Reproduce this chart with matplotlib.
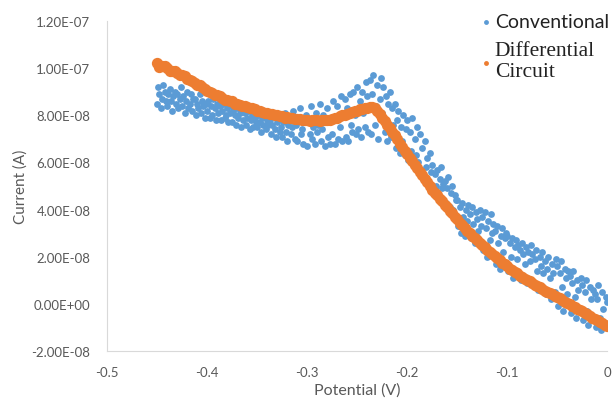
import numpy as np
import matplotlib
matplotlib.use("Agg")
import matplotlib.pyplot as plt
from matplotlib.lines import Line2D
from matplotlib.ticker import FuncFormatter, MultipleLocator

# potential sweeps (V)
conv_potential = np.round(np.arange(-0.45, 0.00001, 0.00125), 5)
diff_potential = np.round(np.arange(-0.45, 0.00001, 0.0025), 5)

# current readings, units of 1e-8 A
conv_current = [
    8.5, 9.2, 8.9, 8.3, 8.7, 9.3, 9.0, 8.6, 8.4, 8.9,
    9.1, 8.6, 8.2, 8.8, 9.0, 8.5, 8.9, 8.3, 8.7, 9.2,
    8.4, 8.8, 8.1, 8.6, 9.0, 8.3, 8.5, 8.9, 8.2, 8.7,
    8.7, 8.0, 8.5, 8.3, 8.9, 8.1, 8.6, 8.4, 7.9, 8.5,
    8.2, 8.6, 7.9, 8.4, 8.0, 8.7, 8.3, 7.8, 8.5, 8.1,
    8.4, 7.8, 8.2, 8.5, 7.9, 8.0, 8.3, 7.7, 8.1, 8.4,
    7.7, 8.2, 8.0, 7.6, 8.3, 7.9, 8.1, 7.5, 8.2, 7.8,
    8.1, 7.6, 7.9, 8.2, 7.4, 7.8, 8.0, 7.5, 7.9, 7.7,
    7.5, 8.0, 7.7, 7.3, 7.9, 7.6, 8.1, 7.4, 7.8, 7.6,
    7.8, 7.2, 7.6, 8.0, 7.4, 7.1, 7.7, 7.9, 7.3, 7.5,
    7.1, 7.7, 8.1, 7.3, 6.9, 7.6, 7.9, 7.2, 7.5, 8.2,
    7.0, 7.6, 6.9, 7.8, 8.3, 7.2, 7.4, 6.8, 7.7, 8.0,
    6.7, 7.9, 7.2, 8.4, 7.0, 7.5, 6.8, 8.1, 7.3, 7.6,
    8.5, 6.9, 7.4, 8.0, 6.7, 7.7, 8.3, 7.1, 6.8, 7.9,
    7.2, 8.6, 6.8, 7.8, 8.4, 7.0, 7.5, 8.8, 6.9, 8.1,
    8.7, 7.1, 8.3, 6.9, 8.9, 7.6, 7.3, 9.0, 8.0, 7.2,
    9.2, 7.4, 8.6, 7.1, 9.0, 8.1, 7.5, 9.4, 8.8, 7.3,
    9.5, 7.2, 8.9, 9.7, 7.6, 8.4, 9.3, 7.0, 8.7, 9.6,
    8.1, 9.2, 7.3, 8.8, 6.9, 8.5, 9.0, 7.1, 8.3, 7.6,
    8.5, 6.6, 7.8, 8.2, 6.4, 7.5, 6.9, 8.0, 6.3, 7.4,
    7.8, 6.1, 7.3, 6.5, 7.9, 5.9, 7.0, 6.3, 7.5, 6.0,
    7.2, 5.5, 6.6, 5.3, 6.9, 5.8, 6.2, 5.2, 6.4, 5.6,
    5.9, 4.8, 5.5, 5.0, 5.7, 4.6, 5.3, 5.8, 4.9, 5.1,
    5.2, 4.3, 4.9, 5.4, 4.1, 4.7, 5.0, 4.0, 4.6, 4.4,
    4.4, 3.3, 4.1, 3.0, 4.3, 3.7, 2.9, 4.0, 3.5, 4.2,
    3.8, 2.8, 4.1, 3.4, 2.6, 3.9, 3.6, 3.1, 4.0, 3.3,
    3.7, 2.3, 3.9, 3.2, 2.0, 3.5, 2.7, 3.8, 3.0, 3.4,
    3.1, 1.7, 3.3, 2.6, 1.5, 2.9, 3.2, 2.2, 2.8, 3.0,
    2.9, 1.4, 2.6, 2.0, 2.8, 1.1, 2.4, 2.7, 1.9, 2.5,
    2.3, 1.0, 2.6, 2.1, 1.7, 2.4, 0.9, 2.2, 1.8, 2.5,
    2.1, 0.8, 1.9, 2.3, 1.4, 0.6, 2.0, 1.6, 2.2, 1.3,
    1.8, 0.4, 1.5, 2.0, 1.1, 0.2, 1.7, 1.3, 0.5, 1.9,
    1.6, -0.1, 1.3, 1.8, 0.7, -0.3, 1.5, 1.1, 0.4, 1.4,
    1.2, -0.4, 0.9, 1.4, 0.3, -0.6, 1.0, 0.6, -0.2, 1.1,
    0.8, -0.7, 0.5, 1.0, -0.3, -0.9, 0.7, 0.2, -0.5, 0.6,
    0.4, -1.0, 0.2, 0.8, -0.6, -1.1, 0.5, -0.2, -0.8, 0.3,
    0.1,
]
diff_current = [
    10.2, 10.05, 10.1, 10.1, 10.0, 9.9, 9.9, 9.9, 9.8, 9.7,
    9.7, 9.65, 9.55, 9.5, 9.45, 9.35, 9.3, 9.3, 9.2, 9.1,
    9.05, 9.0, 8.95, 8.85, 8.85, 8.8, 8.75, 8.65, 8.65, 8.6,
    8.6, 8.5, 8.5, 8.45, 8.4, 8.4, 8.35, 8.3, 8.3, 8.25,
    8.2, 8.2, 8.15, 8.1, 8.1, 8.05, 8.05, 8.0, 8.0, 7.95,
    7.95, 7.9, 7.92, 7.9, 7.9, 7.85, 7.85, 7.85, 7.82, 7.8,
    7.8, 7.75, 7.78, 7.8, 7.78, 7.75, 7.78, 7.8, 7.8, 7.82,
    7.85, 7.9, 7.9, 7.95, 8.0, 8.0, 8.05, 8.1, 8.15, 8.2,
    8.2, 8.25, 8.25, 8.3, 8.3, 8.35, 8.35, 8.3, 8.2, 8.05,
    7.9, 7.75, 7.6, 7.45, 7.3, 7.15, 7.0, 6.8, 6.65, 6.5,
    6.35, 6.2, 6.05, 5.9, 5.75, 5.6, 5.45, 5.3, 5.15, 5.0,
    4.85, 4.7, 4.6, 4.45, 4.35, 4.2, 4.1, 3.95, 3.85, 3.7,
    3.6, 3.45, 3.35, 3.2, 3.1, 3.0, 2.9, 2.8, 2.7, 2.6,
    2.5, 2.4, 2.3, 2.2, 2.1, 2.05, 1.95, 1.85, 1.75, 1.7,
    1.6, 1.5, 1.45, 1.35, 1.3, 1.2, 1.15, 1.05, 1.0, 0.95,
    0.88, 0.8, 0.75, 0.7, 0.62, 0.55, 0.5, 0.45, 0.4, 0.35,
    0.3, 0.25, 0.18, 0.1, 0.05, 0.0, -0.08, -0.15, -0.2, -0.25,
    -0.32, -0.4, -0.45, -0.5, -0.58, -0.65, -0.7, -0.75, -0.82, -0.9,
    -0.95,
]
series_names = ["Conventional", "Differential\nCircuit"]

blue = "#5B9BD5"
orange = "#ED7D31"
grey = "#595959"

fig = plt.figure(figsize=(6.16, 4.06), dpi=100)
ax = fig.add_axes([0.1737, 0.133, 0.8117, 0.8128])

ax.scatter(conv_potential, np.array(conv_current) * 1e-8, s=24, color=blue,
           linewidths=0, zorder=2)
ax.scatter(diff_potential, np.array(diff_current) * 1e-8, s=66, color=orange,
           linewidths=0, zorder=3)

ax.set_xlim(-0.5, 0)
ax.set_ylim(-2e-8, 1.2e-7)
ax.xaxis.set_major_locator(MultipleLocator(0.1))
ax.yaxis.set_major_locator(MultipleLocator(2e-8))
ax.xaxis.set_major_formatter(FuncFormatter(lambda v, p: "0" if abs(v) < 1e-9 else f"{v:.1f}"))
ax.yaxis.set_major_formatter(FuncFormatter(lambda v, p: f"{v:.2E}"))

for s in ["top", "right"]:
    ax.spines[s].set_visible(False)
for s in ["left", "bottom"]:
    ax.spines[s].set_color("#d9d9d9")
ax.tick_params(length=0, labelsize=9.5, labelcolor=grey)
ax.tick_params(axis="y", pad=12)
ax.tick_params(axis="x", pad=11)
for t in ax.get_xticklabels() + ax.get_yticklabels():
    t.set_fontfamily("Lato")

ax.set_xlabel("Potential (V)", fontsize=11.5, color=grey, family="Lato", labelpad=3)
ax.set_ylabel("Current (A)", fontsize=11, color=grey, family="Lato", labelpad=3)

handles = [Line2D([], [], ls="none", marker="o", ms=3.5, mec="none", mfc=blue),
           Line2D([], [], ls="none", marker="o", ms=3.5, mec="none", mfc=orange)]
leg = ax.legend(handles, series_names, loc="upper left",
                bbox_to_anchor=(474 / 616, 1 - 6 / 406),
                bbox_transform=fig.transFigure, frameon=False,
                handletextpad=0.3, handlelength=0.6, labelspacing=0.75,
                borderaxespad=0.2)
t0, t1 = leg.get_texts()
t0.set_fontfamily("Lato")
t0.set_fontsize(14)
t0.set_color("#222222")
t1.set_fontfamily("Liberation Serif")
t1.set_fontsize(15.5)
t1.set_color("#222222")
t1.set_linespacing(1.15)

fig.savefig("out.png", dpi=100)
